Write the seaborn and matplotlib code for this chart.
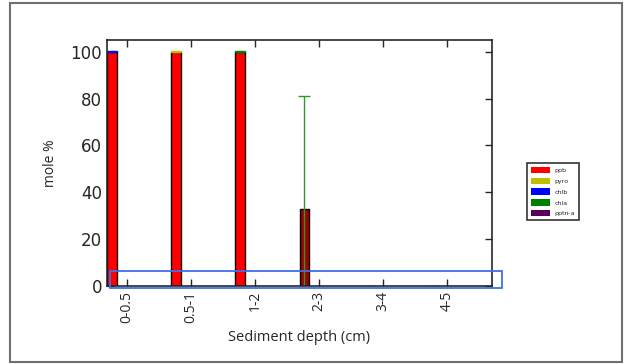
import numpy as np
import pandas as pd
import matplotlib
matplotlib.use("Agg")
import matplotlib.pyplot as plt
from matplotlib.patches import Patch, Rectangle
import seaborn as sns

# ── Datos ──
depths = ['0-0.5', '0.5-1', '1-2', '2-3', '3-4', '4-5']
ppb    = [100, 100, 100, 33, 0, 0]
ppb_err = [0, 0, 0, 48, 0, 0]
pyro   = [0, 0.4, 0, 0, 0, 0]
chlb   = [0.4, 0, 0, 0, 0, 0]
chla   = [0, 0, 0.4, 0, 0, 0]
pptn_a = [0, 0, 0, 0, 0, 0]

series_names  = ['ppb', 'pyro', 'chlb', 'chla', 'pptn-a']
series_colors = ['#ff0000', '#bfbf00', '#0000ff', '#007f00', '#5a005a']
bar_colors    = ['#ff0000', '#ff0000', '#ff0000', '#a00000', '#ff0000', '#ff0000']

sns.set_style("ticks", {"xtick.direction": "in", "ytick.direction": "in"})
plt.rcParams['font.family'] = ['DejaVu Sans']

fig = plt.figure(figsize=(6.24, 3.64), dpi=100)
ax = fig.add_axes([107/624, 1 - 286/364, 385/624, 246/364])

df = pd.DataFrame({'depth': depths, 'ppb': ppb})
sns.barplot(data=df, x='depth', y='ppb', hue='depth', palette=bar_colors,
            saturation=1, width=0.15, edgecolor='black', linewidth=1,
            legend=False, ax=ax)

# Segmentos apilados muy pequeños (solo los no nulos)
bottom = np.array(ppb, dtype=float)
for vals, col in zip([pyro, chlb, chla, pptn_a], series_colors[1:]):
    v = np.array(vals, dtype=float)
    nz = np.nonzero(v)[0]
    if len(nz):
        ax.bar(nz, v[nz], bottom=bottom[nz], width=0.15, color=col,
               edgecolor=col, linewidth=1)
    bottom += v

# Barra de error (chla en 2-3)
err = np.array(ppb_err, dtype=float)
idx = np.nonzero(err)[0]
ax.errorbar(idx, np.array(ppb)[idx], yerr=err[idx], fmt='none',
            ecolor='#2a9a2a', elinewidth=1, capsize=4, capthick=1, zorder=1)

ax.set_xlim(-0.075, 5.925)
ax.set_ylim(0, 105)
ax.set_yticks([0, 20, 40, 60, 80, 100])
ax.tick_params(axis='y', labelsize=12, length=5, width=1, right=True)
ax.set_xticks(np.arange(len(depths)) + 0.23)
ax.set_xticklabels(depths, rotation=90, fontsize=10, family='Open Sans')
ax.tick_params(axis='x', length=5, width=1, top=True)
for s in ax.spines.values():
    s.set_visible(True); s.set_linewidth(1.2)
ax.set_xlabel('Sediment depth (cm)', fontsize=10.5, family='Open Sans', labelpad=5)
ax.set_ylabel('mole %', fontsize=10, family='Open Sans', labelpad=9)

handles = [Patch(facecolor=c, edgecolor='none') for c in series_colors]
leg = fig.legend(handles, series_names, loc='upper left',
                 bbox_to_anchor=(524/624, 1 - 160/364), fontsize=4.5,
                 frameon=True, fancybox=False, handlelength=3, handleheight=1.2,
                 borderpad=0.6, labelspacing=0.7)
leg.get_frame().set_edgecolor('black')
leg.get_frame().set_linewidth(1.2)

# Recuadro azul de resalte y marco exterior
fig.add_artist(Rectangle((110/624, 1 - 288/364), 392/624, 17/364, fill=False,
                         edgecolor='#3f6fe8', linewidth=1.3,
                         transform=fig.transFigure))
fig.add_artist(Rectangle((10/624, 2/364), 612/624, 359/364, fill=False,
                         edgecolor='#707070', linewidth=1.5,
                         transform=fig.transFigure))

fig.savefig('out.png', dpi=100)
